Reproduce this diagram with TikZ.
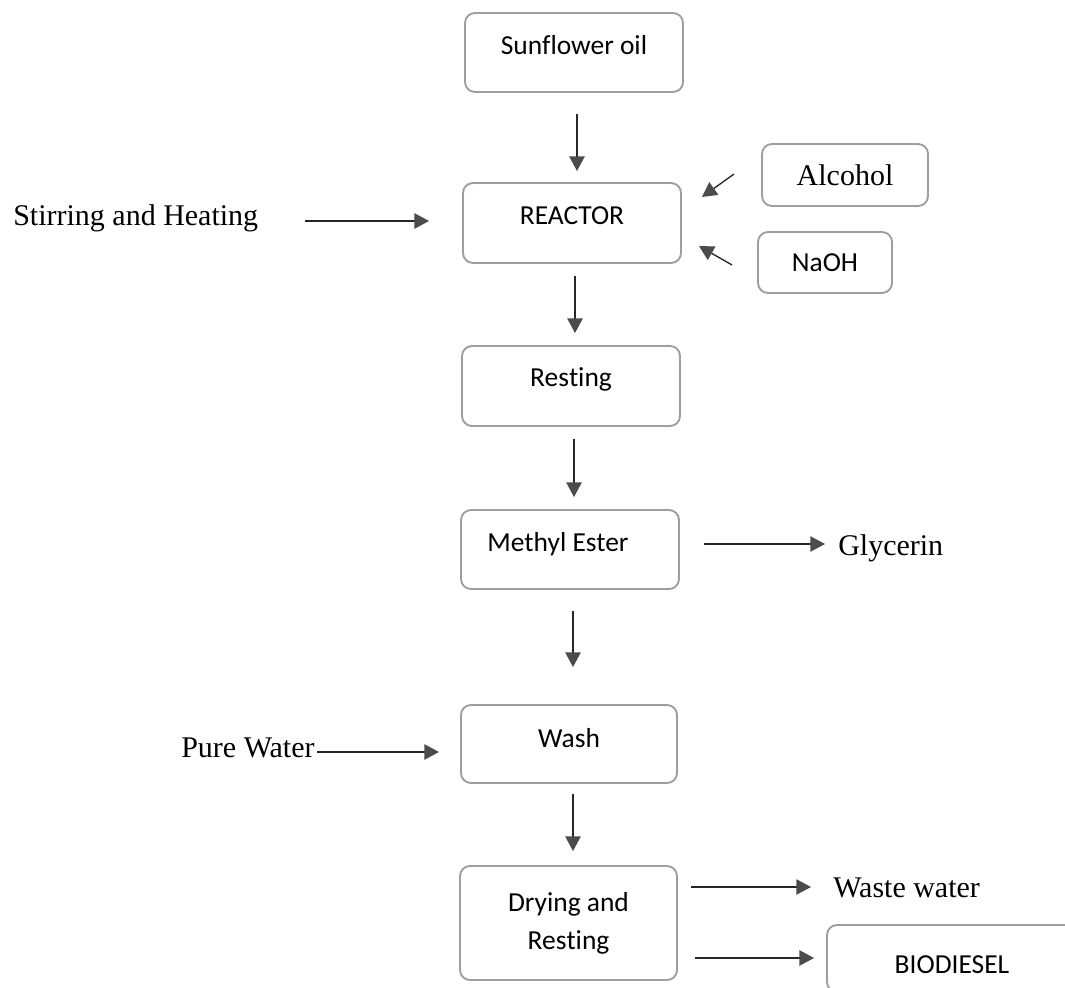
\documentclass[tikz,border=0pt]{standalone}
\usepackage{fontspec}
\setmainfont{Liberation Serif}
\setsansfont{Carlito}[RawFeature={-liga;-clig;-dlig}]
\usetikzlibrary{arrows.meta,calc}
\begin{document}
\begin{tikzpicture}[x=0.75pt,y=-0.75pt,
  box/.style={draw=black!38, line width=1.4pt, rounded corners=7.5pt, inner sep=0pt,
    font=\sffamily\fontsize{20.6}{24}\selectfont},
  sbox/.style={box, font=\rmfamily\fontsize{22.5}{27}\selectfont},
  lbl/.style={inner sep=0pt, anchor=base west, font=\rmfamily\fontsize{22.5}{27}\selectfont},
  arr/.style={draw=black!85, line width=1pt, -{Triangle[length=11pt,width=11.5pt,color=black!70]}}]
\useasboundingbox (0,0) rectangle (1065,988);
\clip (0,0) rectangle (1065,988);
\fill[white] (0,0) rectangle (1065,988);

% main column
\node[box, minimum width=163.5pt, minimum height=59.25pt, text height=31.125pt, text depth=28.125pt] (sun) at (574,52.5) {Sunflower oil};
\node[box, minimum width=163.5pt, minimum height=60pt, text height=31.5pt, text depth=28.5pt] (reactor) at (572,223) {REACTOR};
\node[box, minimum width=163.5pt, minimum height=60pt, text height=30.75pt, text depth=29.25pt] (resting) at (571,386) {Res\kern0pt t\kern0pt ing};
\node[box, minimum width=163.5pt, minimum height=59.25pt, text height=30.75pt, text depth=28.5pt] (methyl) at (570,549.5) {Methyl Ester\hspace*{18pt}};
\node[box, minimum width=162pt, minimum height=58.5pt, text height=31.5pt, text depth=27pt] (wash) at (569,744) {Wash};
\node[box, minimum width=162.75pt, minimum height=85.5pt, align=center,
  font=\sffamily\fontsize{20.6}{28.5}\selectfont] (drying) at (568.5,923) {Drying and\\Res\kern0pt t\kern0pt ing};

% side boxes
\node[sbox, minimum width=124.5pt, minimum height=46.5pt, text height=31.5pt, text depth=15pt] (alcohol) at (845,175) {Alcohol};
\node[box, minimum width=100.5pt, minimum height=45.75pt, text height=30pt, text depth=15.75pt] (naoh) at (825,262.5) {NaOH};
\node[box, minimum width=187.5pt, minimum height=50.25pt, text height=36pt, text depth=14.25pt] (bio) at (952,958.5) {BIODIESEL};

% free labels
\node[lbl] (stir) at (13,226) {Stirring and Heating};
\node[lbl] (glyc) at (838,555) {Glycerin};
\node[lbl] (pure) at (181,757) {Pure Water};
\node[lbl] (waste) at (833,897) {Waste water};

% vertical arrows
\draw[arr] ($(sun.south)+(3,21)$) -- ($(reactor.north)+(5,-11)$);
\draw[arr] ($(reactor.south)+(3,12)$) -- ($(resting.north)+(4,-12)$);
\draw[arr] ($(resting.south)+(3,12)$) -- ($(methyl.north)+(4,-12)$);
\draw[arr] ($(methyl.south)+(3,21)$) -- ($(wash.north)+(4,-37)$);
\draw[arr] ($(wash.south)+(4,10)$) -- ($(drying.north)+(4.5,-14)$);

% side arrows
\draw[arr] ($(stir.base east)+(47,-5)$) -- ($(reactor.west)+(-33,-2)$);
\draw[arr] ($(alcohol.west)+(-27,-1)$) -- ($(reactor.east)+(20,-26)$);
\draw[arr] ($(naoh.west)+(-25,2.5)$) -- ($(reactor.east)+(17,23)$);
\draw[arr] ($(methyl.east)+(24,-5.5)$) -- ($(glyc.base west)+(-13,-11)$);
\draw[arr] ($(pure.base east)+(2,-5)$) -- ($(wash.west)+(-21,8)$);
\draw[arr] ($(drying.east)+(13,-36)$) -- ($(waste.base west)+(-22,-10)$);
\draw[arr] ($(drying.east)+(17,35)$) -- ($(bio.west)+(-12,-0.5)$);
\end{tikzpicture}
\end{document}
